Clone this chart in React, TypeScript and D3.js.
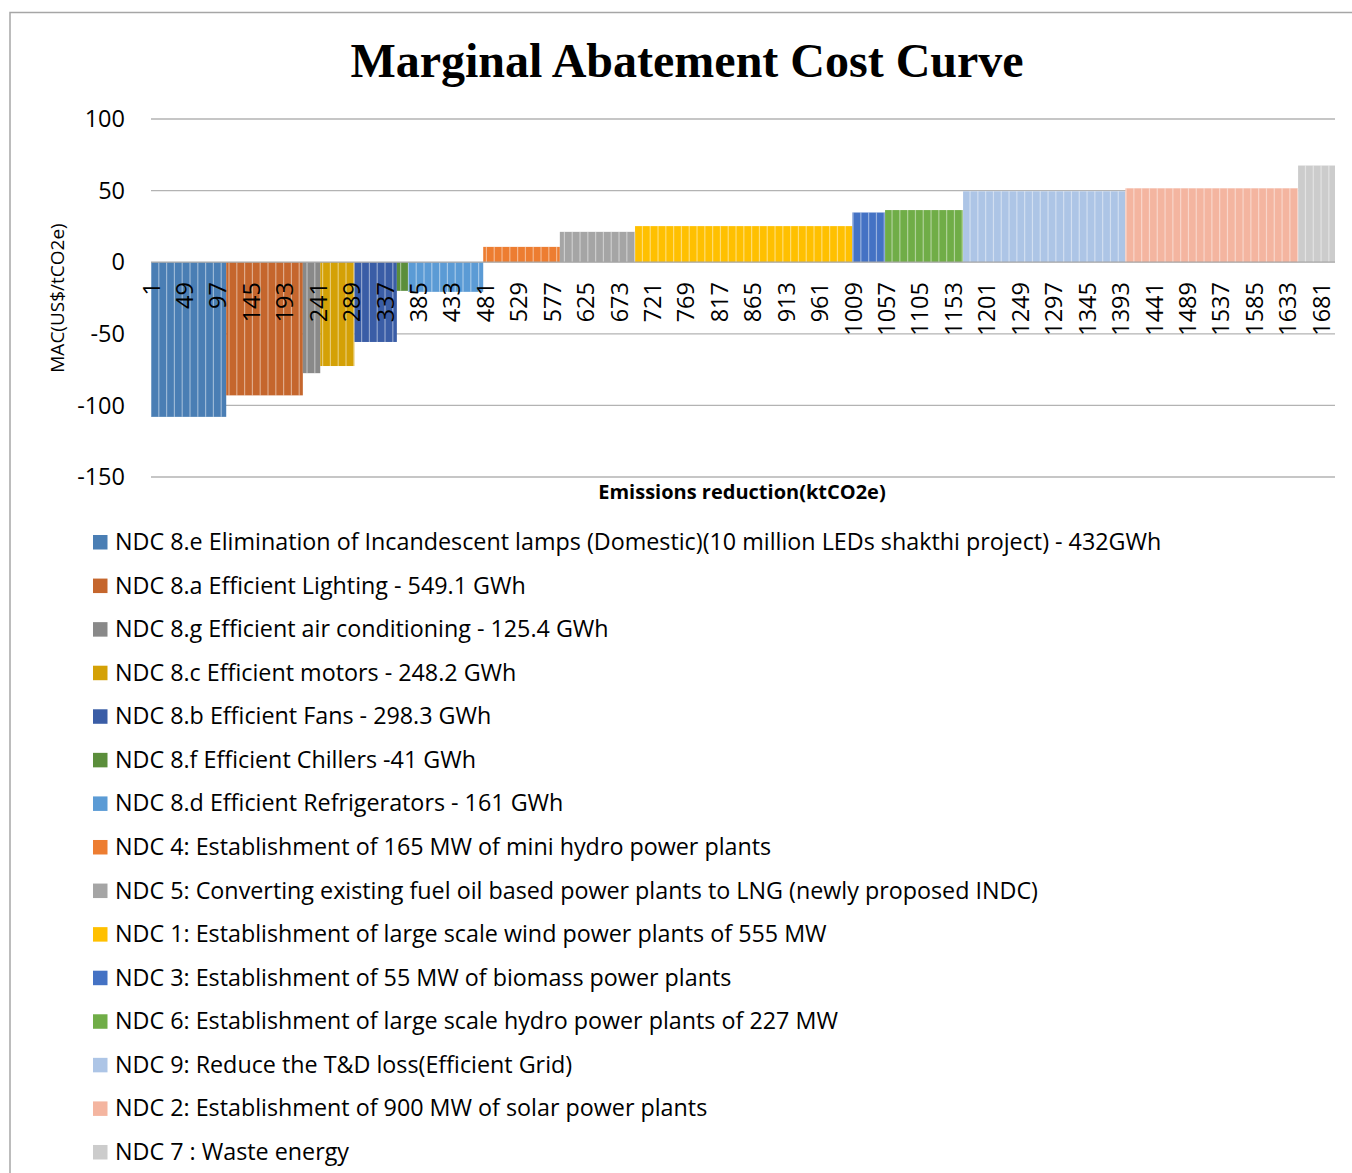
import * as React from "react";
import { cumsum, range, scaleLinear, sum } from "d3";

// measures in the order they are plotted on the curve
const measures = [
  "NDC 8.e Elimination of Incandescent lamps (Domestic)(10 million LEDs shakthi project) - 432GWh",
  "NDC 8.a Efficient Lighting - 549.1 GWh",
  "NDC 8.g Efficient air conditioning - 125.4 GWh",
  "NDC 8.c Efficient motors - 248.2 GWh",
  "NDC 8.b Efficient Fans - 298.3 GWh",
  "NDC 8.f Efficient Chillers -41 GWh",
  "NDC 8.d Efficient Refrigerators - 161 GWh",
  "NDC 4: Establishment of 165 MW of mini hydro power plants",
  "NDC 5: Converting existing fuel oil based power plants to LNG (newly proposed INDC)",
  "NDC 1: Establishment of large scale wind power plants of 555 MW",
  "NDC 3: Establishment of 55 MW of biomass power plants",
  "NDC 6: Establishment of large scale hydro power plants of 227 MW",
  "NDC 9: Reduce the T&D loss(Efficient Grid)",
  "NDC 2: Establishment of 900 MW of solar power plants",
  "NDC 7 : Waste energy",
];

// emissions reduction of each measure (ktCO2e)
const reductions = [108, 110, 25, 49, 61, 16, 108, 110, 108, 312, 47, 112, 233, 248, 53];

// marginal abatement cost (US$/tCO2e)
const costs = [-108, -93, -77.5, -72.5, -55.7, -20, -20.7, 10.7, 21.2, 25.2, 34.7, 36.4, 49.5, 51.6, 67.5];

const colors = [
  "#4a7eb4", "#c5662d", "#898989", "#d4a106", "#3a5da6", "#5b8e3b", "#5b9bd5",
  "#ed7d31", "#a5a5a5", "#ffc000", "#4472c4", "#70ad47", "#adc5e6", "#f4b5a0", "#cccccc",
];

const yTicks = [100, 50, 0, -50, -100, -150];

const font = "'Open Sans', 'Noto Sans', sans-serif";

export default function App() {
  const width = 1352;
  const height = 1173;
  const total = sum(reductions);
  const ends = Array.from(cumsum(reductions));
  const starts = ends.map((e, i) => e - reductions[i]);

  const xScale = scaleLinear().domain([0, total]).range([151, 1335]);
  const yScale = scaleLinear().domain([-150, 100]).range([477, 119]);
  const xTicks = range(1, total + 1, 48);

  // excel draws the thin bars with faint gaps; mimic them as light stripes
  const stripes = range(0, total, 11.2).map((c) => {
    const i = ends.findIndex((e) => c < e);
    return { c, v: costs[i] };
  });

  return (
    <svg
      width={width}
      height={height}
      style={{ position: "absolute", left: 0, top: 0, background: "#fff" }}
    >
      <rect x={10} y={12.5} width={width + 20} height={height + 20} fill="#fff" stroke="#a6a6a6" strokeWidth={1.5} />

      <text
        x={687}
        y={77}
        textAnchor="middle"
        fontFamily="'Liberation Serif', 'Times New Roman', serif"
        fontWeight="bold"
        fontSize={48}
      >
        Marginal Abatement Cost Curve
      </text>

      {yTicks.filter((t) => t !== 0).map((t) => (
        <line key={t} x1={151} x2={1335} y1={yScale(t)} y2={yScale(t)} stroke="#b3b3b3" strokeWidth={1.3} />
      ))}

      {yTicks.map((t) => (
        <text key={t} x={125} y={yScale(t)} dy="0.35em" textAnchor="end" fontFamily={font} fontSize={23.5} fill="#000">
          {t}
        </text>
      ))}

      {measures.map((m, i) => {
        const y0 = yScale(0);
        const y1 = yScale(costs[i]);
        return (
          <rect
            key={m}
            x={xScale(starts[i])}
            width={xScale(ends[i]) - xScale(starts[i])}
            y={Math.min(y0, y1)}
            height={Math.abs(y1 - y0)}
            fill={colors[i]}
          />
        );
      })}

      {stripes.map((s) => (
        <line
          key={s.c}
          x1={xScale(s.c)}
          x2={xScale(s.c)}
          y1={yScale(0)}
          y2={yScale(s.v)}
          stroke="#fff"
          strokeOpacity={0.45}
          strokeWidth={1.2}
        />
      ))}

      <line x1={151} x2={1335} y1={yScale(0)} y2={yScale(0)} stroke="#a6a6a6" strokeWidth={1.3} />

      {xTicks.map((t) => (
        <text
          key={t}
          transform={`translate(${xScale(t - 0.5)},282) rotate(-90)`}
          dy="0.35em"
          textAnchor="end"
          fontFamily={font}
          fontSize={23.5}
          fill="#000"
        >
          {t}
        </text>
      ))}

      <text
        transform="translate(57,298) rotate(-90)"
        dy="0.35em"
        textAnchor="middle"
        fontFamily={font}
        fontSize={19}
      >
        MAC(US$/tCO2e)
      </text>

      <text x={742} y={499} textAnchor="middle" fontFamily={font} fontWeight="bold" fontSize={20}>
        Emissions reduction(ktCO2e)
      </text>

      {measures.map((m, i) => {
        const y = 535 + i * 43.57;
        return (
          <g key={m}>
            <rect x={93} y={y} width={14.5} height={14.5} fill={colors[i]} />
            <text x={115} y={y + 15} fontFamily={font} fontSize={23.3} fill="#000">
              {m}
            </text>
          </g>
        );
      })}
    </svg>
  );
}
